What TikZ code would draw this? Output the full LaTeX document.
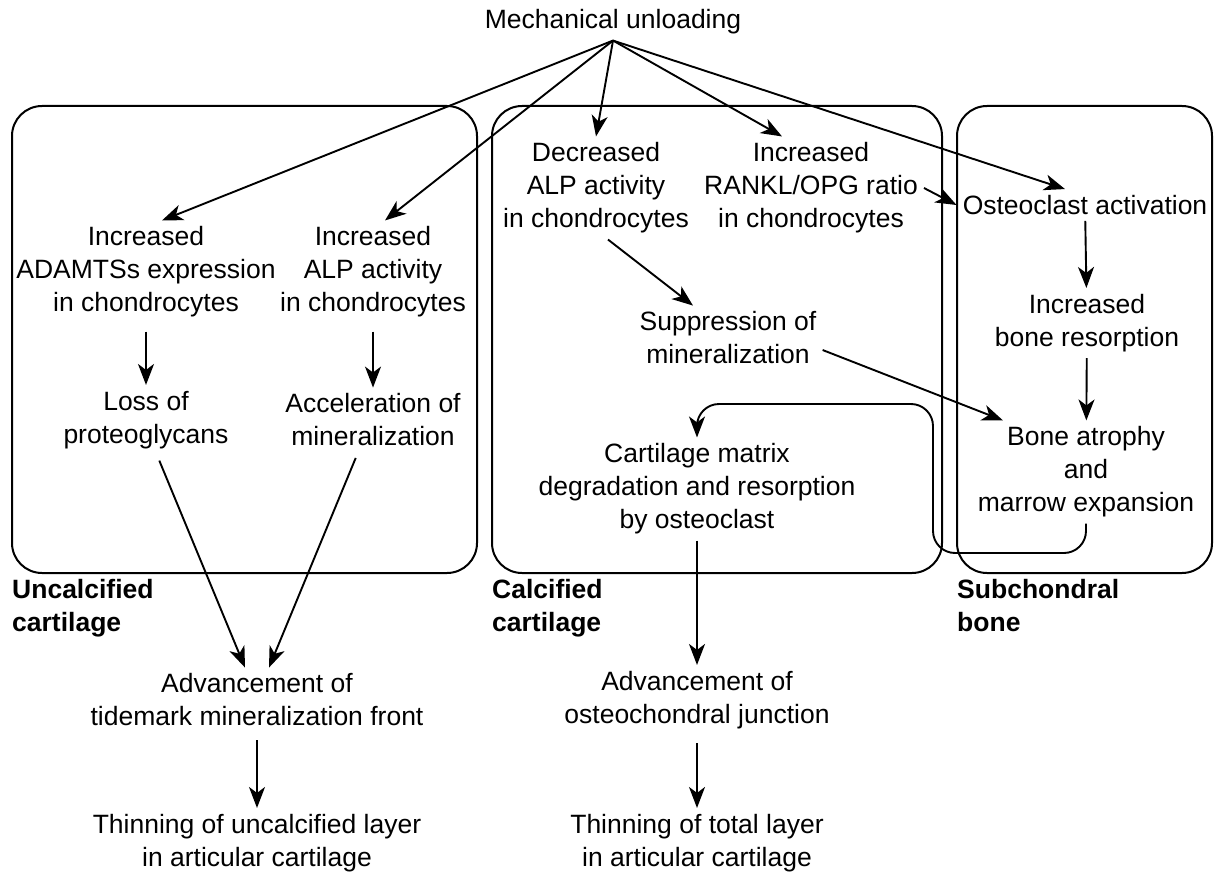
\documentclass[tikz,border=0pt]{standalone}
\usepackage{fontspec}
\setmainfont{Liberation Sans}
\usetikzlibrary{arrows.meta, positioning}

\begin{document}
\begin{tikzpicture}[
    x=1pt, y=-1pt,
    txt/.style={align=center, inner sep=6pt, font=\fontsize{26.5}{33}\selectfont},
    zonelabel/.style={align=left, anchor=north west, inner sep=0pt, font=\bfseries\fontsize{26.5}{33}\selectfont},
    zone/.style={draw, line width=2pt, rounded corners=30pt},
    every edge/.style={draw, line width=1.9pt, -{Stealth[length=21pt, width=16pt, inset=6pt]}}
]
\useasboundingbox (0,0) rectangle (1215,872);

% Tissue zones
\path[zone] (12,106) rectangle (477,573);
\path[zone] (492,106) rectangle (942,573);
\path[zone] (957,106) rectangle (1212,573);

\node[zonelabel] (L1) at (12,579) {Uncalcified\\cartilage};
\node[zonelabel] (L2) at (492,579) {Calcified\\cartilage};
\node[zonelabel] (L3) at (957,579) {Subchondral\\bone};

% Trigger
\node[txt] (mech) at (613,22) {Mechanical unloading};

% Uncalcified cartilage
\node[txt] (adamts) at (146,272) {Increased\\ADAMTSs expression\\in chondrocytes};
\node[txt] (alpinc) at (373,272) {Increased\\ALP activity\\in chondrocytes};
\node[txt] (loss) at (146,420) {Loss of\\proteoglycans};
\node[txt] (accel) at (373,420) {Acceleration of\\mineralization};

% Calcified cartilage
\node[txt] (alpdec) at (596,188) {Decreased\\ALP activity\\in chondrocytes};
\node[txt] (rankl) at (811,188) {Increased\\RANKL/OPG ratio\\in chondrocytes};
\node[txt] (supp) at (728,338) {Suppression of\\mineralization};
\node[txt] (cartmat) at (697,489) {Cartilage matrix\\degradation and resorption\\by osteoclast};

% Subchondral bone
\node[txt] (osteoact) at (1085,205) {Osteoclast activation};
\node[txt] (resorp) at (1087,323) {Increased\\bone resorption};
\node[txt] (atrophy) at (1086,472) {Bone atrophy\\and\\marrow expansion};

% Outcomes
\node[txt] (advtide) at (257,700) {Advancement of\\tidemark mineralization front};
\node[txt] (thinunc) at (257,843) {Thinning of uncalcified layer\\in articular cartilage};
\node[txt] (advosteo) at (697,700) {Advancement of\\osteochondral junction};
\node[txt] (thintot) at (697,843) {Thinning of total layer\\in articular cartilage};

% Edges from the trigger
\path (mech.south) edge ([xshift=16pt]adamts.north);
\path (mech.south) edge ([xshift=12pt]alpinc.north);
\path (mech.south) edge (alpdec.north);
\path (mech.south) edge ([xshift=-29pt]rankl.north);
\path (mech.south) edge ([xshift=-20pt]osteoact.north);

% Uncalcified chain
\path (adamts) edge[shorten <=8pt] (loss);
\path (alpinc) edge[shorten <=8pt] (accel);
\path ([xshift=11pt]loss.south) edge[shorten <=6pt] ([xshift=-12pt]advtide.north);
\path ([xshift=-15pt]accel.south) edge[shorten <=6pt] ([xshift=12pt]advtide.north);
\path (advtide) edge[shorten <=8pt] (thinunc);

% Calcified chain
\path ([xshift=12pt]alpdec.south) edge ([xshift=-35pt]supp.north);
\path (rankl.east) edge (osteoact.west);
\path ([yshift=-12pt]supp.east) edge ([xshift=-83pt]atrophy.north);
\path (cartmat) edge (advosteo);
\path (advosteo) edge[shorten <=8pt] (thintot);

% Subchondral chain
\path (osteoact) edge (resorp);
\path (resorp) edge (atrophy);

% Feedback loop to the cartilage matrix
\coordinate (loopR) at (933,553);
\coordinate (loopT) at (0,404);
\draw[line width=1.9pt, rounded corners=22pt, -{Stealth[length=21pt, width=16pt, inset=6pt]}]
    (atrophy.south) |- (loopR) |- (cartmat.north |- loopT) -- (cartmat.north);

\end{tikzpicture}
\end{document}
